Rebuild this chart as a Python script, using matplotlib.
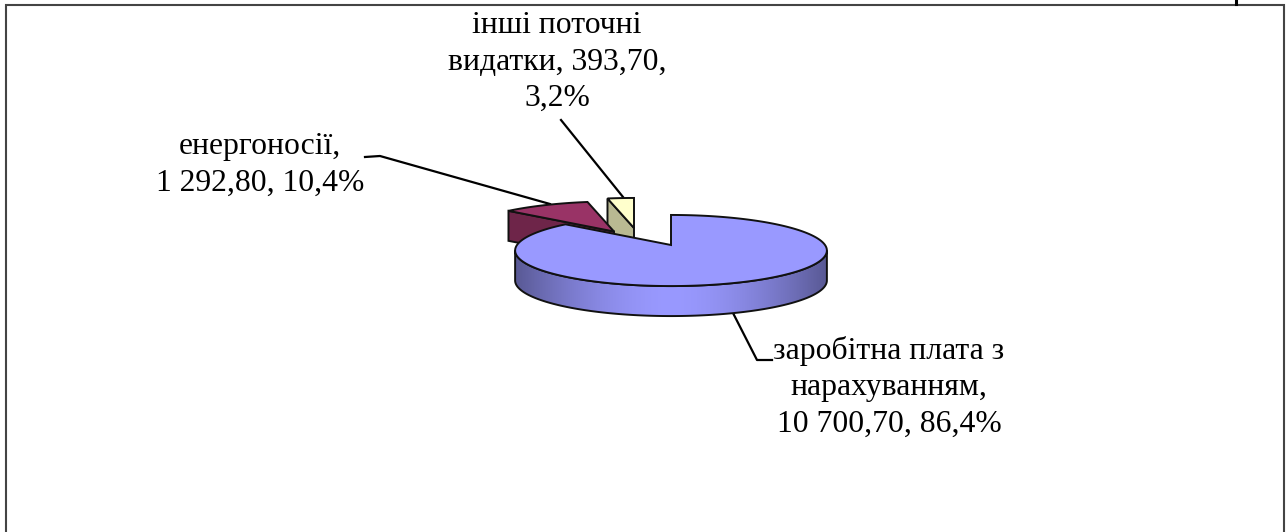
import matplotlib
matplotlib.use('Agg')
import matplotlib.pyplot as plt
from matplotlib.patches import Polygon
import numpy as np

plt.rcParams['font.family'] = ['Liberation Serif', 'DejaVu Serif']

# data
categories = ['заробітна плата з\nнарахуванням,', 'енергоносії,', 'інші поточні\nвидатки,']
values = [10700.70, 1292.80, 393.70]
value_labels = ['10 700,70', '1 292,80', '393,70']
percents = ['86,4%', '10,4%', '3,2%']

# pie geometry, in pixels of the picture
RX, RY, PERSP = 154, 34.7, 0.155
DEPTH = 30
centers = [(671, 245), (614, 231.5), (634, 228)]
top_colors = ['#9999FF', '#993366', '#FFFFCC']
side_colors = ['#9999FF', '#6E2549', '#B9B992']
EDGE = '#111111'


def project(center, theta):
    # circle on a tilted plane, the near half comes out larger
    t = np.radians(theta)
    d = 1 + PERSP * np.sin(t)
    return np.column_stack([center[0] + RX * np.cos(t) / d,
                            center[1] - RY * np.sin(t) / d])


# slices go clockwise from the top
shares = np.array(values) / sum(values) * 360
starts = 90 - np.concatenate([[0], np.cumsum(shares)[:-1]])
ends = starts - shares

fig = plt.figure(figsize=(12.86, 5.32), dpi=100)
ax = fig.add_axes([0, 0, 1, 1])
ax.set_xlim(0, 1286)
ax.set_ylim(532, 0)
ax.axis('off')

# back slices first: cut face, then top
for i in [2, 1]:
    c = np.array(centers[i])
    arc = project(c, np.linspace(starts[i], ends[i], 30))
    rim = arc[0]
    face = np.array([c, rim, rim + [0, DEPTH], c + [0, DEPTH]])
    ax.add_patch(Polygon(face, closed=True, fc=side_colors[i], ec=EDGE, lw=1.4, zorder=2))
    ax.add_patch(Polygon(np.vstack([c, arc]), closed=True, fc=top_colors[i], ec=EDGE, lw=1.4, zorder=3))

# big slice: shaded wall with a gradient along x
c = np.array(centers[0])
arc = project(c, np.linspace(starts[0], ends[0], 240))
# the wall runs between the widest points of the ellipse
search = np.linspace(-40, 40, 161)
th_r = search[np.argmax(project(c, search)[:, 0])]
front = project(c, np.linspace(th_r, -180 - th_r, 160))
wall = np.vstack([front, (front + [0, DEPTH])[::-1]])
wall_patch = Polygon(wall, closed=True, fc='none', ec=EDGE, lw=1.4, zorder=5)
ax.add_patch(wall_patch)
x0, x1 = front[:, 0].min(), front[:, 0].max()
u = np.abs(np.linspace(-1, 1, 300))
shade = 1 - 0.42 * u ** 1.7
rgb = np.array([0x99, 0x99, 0xFF]) / 255
img = np.outer(shade, rgb).reshape(1, 300, 3)
im = ax.imshow(img, extent=[x0, x1, 332, 230], aspect='auto', zorder=4)
im.set_clip_path(wall_patch)
ax.set_xlim(0, 1286)
ax.set_ylim(532, 0)
ax.add_patch(Polygon(np.vstack([c, arc]), closed=True, fc=top_colors[0], ec=EDGE, lw=1.4, zorder=6))

# leader lines
ax.plot([733, 757, 772], [313, 360, 360], color='black', lw=1.6, zorder=1)
ax.plot([365, 380, 550], [157, 156, 204], color='black', lw=1.6, zorder=1)
ax.plot([561, 623], [120, 197], color='black', lw=1.6, zorder=1)

# labels
label_texts = [
    f'{categories[0]}\n{value_labels[0]}, {percents[0]}',
    f'{categories[1]}\n{value_labels[1]}, {percents[1]}',
    f'{categories[2]} {value_labels[2]},\n{percents[2]}',
]
label_pos = [(889, 387), (260, 165), (557, 62)]
for txt, (x, y) in zip(label_texts, label_pos):
    ax.text(x, y, txt, ha='center', va='center', fontsize=22.8, color='black',
            linespacing=1.34, zorder=8)

# chart frame, its bottom edge is cut off in the picture
ax.plot([6, 6, 1284, 1284], [532, 4.5, 4.5, 532], color='#444444', lw=1.5,
        solid_joinstyle='miter', zorder=7)
ax.plot([1236, 1236], [0, 4], color='black', lw=2.2, zorder=7)

fig.savefig('out.png', dpi=100, facecolor='white')
